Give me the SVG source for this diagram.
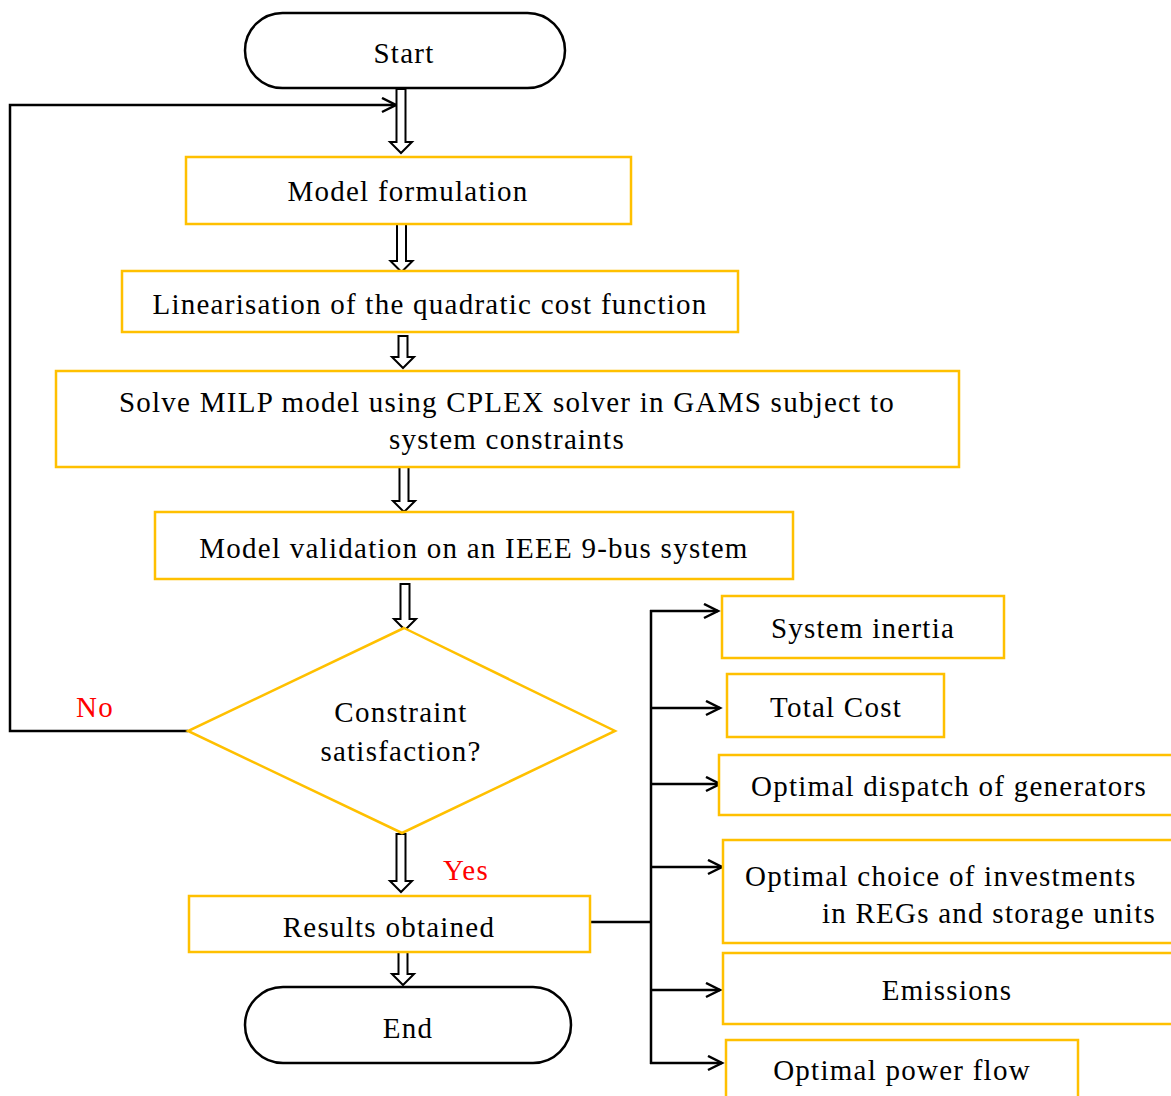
<svg xmlns="http://www.w3.org/2000/svg" width="1171" height="1096" viewBox="0 0 1171 1096">
<defs>
<style>
.box{fill:#fff;stroke:#FFC000;stroke-width:2.5}
.term{fill:#fff;stroke:#000;stroke-width:2.5}
.t{font-family:"Liberation Serif","Times New Roman",serif;font-size:29px;letter-spacing:1.25px;fill:#000;text-anchor:middle}
.red{fill:#FF0000}
.ln{fill:none;stroke:#000;stroke-width:2.5}
.ha{fill:#fff;stroke:#000;stroke-width:2}
</style>
<marker id="oa" markerWidth="20" markerHeight="20" refX="15" refY="8" orient="auto" markerUnits="userSpaceOnUse">
<polyline points="1,1 15,8 1,15" fill="none" stroke="#000" stroke-width="2.5"/>
</marker>
</defs>

<g id="connectors">
<polyline class="ln" points="188,731 10,731 10,105 396,105" marker-end="url(#oa)"/>
<polyline class="ln" points="590,922 651,922"/>
<line class="ln" x1="651" y1="610" x2="651" y2="1064"/>
<line class="ln" x1="650" y1="611" x2="718" y2="611" marker-end="url(#oa)"/>
<line class="ln" x1="650" y1="708" x2="720" y2="708" marker-end="url(#oa)"/>
<line class="ln" x1="650" y1="784" x2="720" y2="784" marker-end="url(#oa)"/>
<line class="ln" x1="650" y1="867" x2="722" y2="867" marker-end="url(#oa)"/>
<line class="ln" x1="650" y1="990" x2="720" y2="990" marker-end="url(#oa)"/>
<line class="ln" x1="650" y1="1063" x2="722" y2="1063" marker-end="url(#oa)"/>
<polygon class="ha" points="396.5,89 405.5,89 405.5,142 412,142 401,153 390,142 396.5,142"/>
<polygon class="ha" points="397,224 406,224 406,261 412.5,261 401.5,272 390.5,261 397,261"/>
<polygon class="ha" points="398.5,336 407.5,336 407.5,357 414,357 403,368 392,357 398.5,357"/>
<polygon class="ha" points="399.5,467 408.5,467 408.5,501 415,501 404,512 393,501 399.5,501"/>
<polygon class="ha" points="400.5,584 409.5,584 409.5,619 416,619 405,630 394,619 400.5,619"/>
<polygon class="ha" points="396.5,834 405.5,834 405.5,881 412,881 401,892 390,881 396.5,881"/>
<polygon class="ha" points="398.5,952 407.5,952 407.5,974 414,974 403,985 392,974 398.5,974"/>
</g>

<g id="start">
<rect class="term" x="245" y="13" width="320" height="75" rx="37.5" ry="37.5"/>
<text class="t" x="404" y="63">Start</text>
</g>
<g id="model-formulation">
<rect class="box" x="186" y="157" width="445" height="67"/>
<text class="t" x="408" y="201">Model formulation</text>
</g>
<g id="linearisation">
<rect class="box" x="122" y="271" width="616" height="61"/>
<text class="t" x="430" y="314">Linearisation of the quadratic cost function</text>
</g>
<g id="solve">
<rect class="box" x="56" y="371" width="903" height="96"/>
<text class="t" x="507" y="412">Solve MILP model using CPLEX solver in GAMS subject to</text>
<text class="t" x="507" y="449">system constraints</text>
</g>
<g id="validation">
<rect class="box" x="155" y="512" width="638" height="67"/>
<text class="t" x="474" y="558">Model validation on an IEEE 9-bus system</text>
</g>
<g id="decision">
<polygon class="box" points="404,628 615,731 402,833 188,731"/>
<text class="t" x="401" y="722">Constraint</text>
<text class="t" x="401" y="761">satisfaction?</text>
</g>
<g id="label-no">
<text class="t red" x="95" y="717">No</text>
</g>
<g id="label-yes">
<text class="t red" x="466" y="880">Yes</text>
</g>
<g id="results">
<rect class="box" x="189" y="896" width="401" height="56"/>
<text class="t" x="389" y="937">Results obtained</text>
</g>
<g id="end">
<rect class="term" x="245" y="987" width="326" height="76" rx="38" ry="38"/>
<text class="t" x="408" y="1038">End</text>
</g>
<g id="system-inertia">
<rect class="box" x="722" y="596" width="282" height="62"/>
<text class="t" x="863" y="638">System inertia</text>
</g>
<g id="total-cost">
<rect class="box" x="727" y="674" width="217" height="63"/>
<text class="t" x="836" y="717">Total Cost</text>
</g>
<g id="optimal-dispatch">
<rect class="box" x="719" y="755" width="460" height="60"/>
<text class="t" x="949" y="796">Optimal dispatch of generators</text>
</g>
<g id="optimal-choice">
<rect class="box" x="723" y="840" width="456" height="103"/>
<text class="t" x="745" y="886" style="text-anchor:start">Optimal choice of investments</text>
<text class="t" x="1156" y="923" style="text-anchor:end">in REGs and storage units</text>
</g>
<g id="emissions">
<rect class="box" x="723" y="953" width="456" height="71"/>
<text class="t" x="947" y="1000">Emissions</text>
</g>
<g id="optimal-power-flow">
<rect class="box" x="726" y="1040" width="352" height="70"/>
<text class="t" x="902" y="1080">Optimal power flow</text>
</g>
</svg>
